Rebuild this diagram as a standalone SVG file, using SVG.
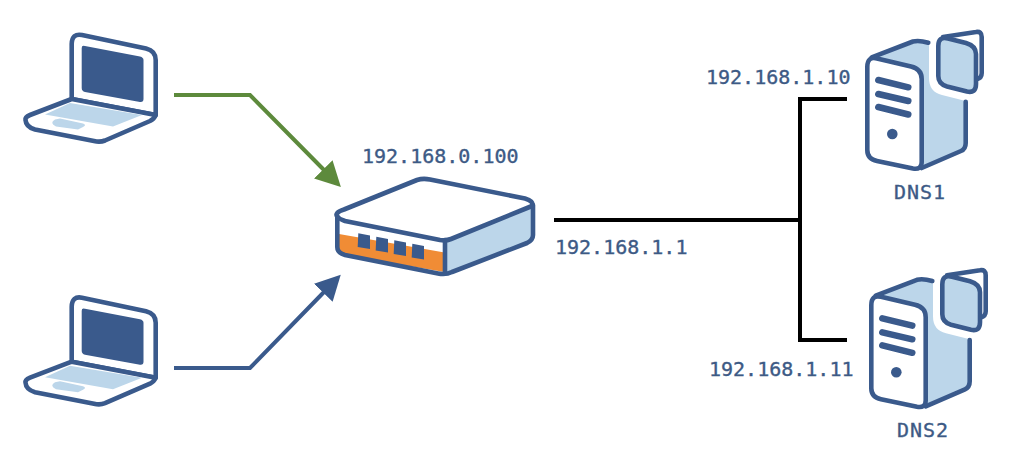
<svg xmlns="http://www.w3.org/2000/svg" width="1029" height="462" viewBox="0 0 1029 462">
<style>
.o{fill:none;stroke:#3a5a8c;stroke-width:4.600;stroke-linejoin:round;stroke-linecap:round}
.w{fill:#fff;stroke:#3a5a8c;stroke-width:4.600;stroke-linejoin:round;stroke-linecap:round}
.f{fill:#bcd6ea;stroke:#3a5a8c;stroke-width:4.600;stroke-linejoin:round;stroke-linecap:round}
.l{fill:#bcd6ea}
.d{fill:#3a5a8c}
.bar{fill:none;stroke:#3a5a8c;stroke-width:6.500;stroke-linecap:round}
.c{fill:none;stroke-width:4;stroke-linejoin:miter}
text{font-family:"DejaVu Sans Mono","Liberation Mono",monospace;font-size:20px;fill:#3d5a85;stroke:#3d5a85;stroke-width:.35}
.n{letter-spacing:1px}
</style>
<defs>
<marker id="ag" markerUnits="userSpaceOnUse" markerWidth="27" markerHeight="27" refX="1" refY="13" orient="auto"><path d="M0 0L25 13L0 26Z" fill="#5d8a3c"/></marker>
<marker id="ab" markerUnits="userSpaceOnUse" markerWidth="27" markerHeight="27" refX="1" refY="13" orient="auto"><path d="M0 0L25 13L0 26Z" fill="#3a5a8c"/></marker>
<g id="laptop">
<path class="w" d="M71.700 99V44Q72 33 82 35L146 48.500Q155.700 51 155.700 60V115Z"/>
<path class="d" d="M81.700 48Q81.700 45 85 46L140 56.500Q143.500 57.500 143.500 60V99Q143.500 102.500 140 102L85 92Q81.700 91 81.700 88Z"/>
<path class="w" d="M71.700 99L155.700 115Q154 119 150 121L105 140.500Q100 142.500 94 141L35 129.500Q26 127 25.500 120Q25 117 30 115Z"/>
<path class="l" d="M45 114.500L70 103L142 115L113 126.500Z"/>
<path class="l" d="M55 119.500L60 118.500L83 123.500Q87 125 83 127L78 129.500L56 126.500Q49 123 55 119.500Z"/>
</g>
<g id="server">
<path class="l" d="M872 58L918 42L929 43V78Q929 92 942 95L965.700 101V143Q965.700 149 961 151L921.700 168Z"/>
<path class="o" d="M871.700 57.300L913 41.500Q919 40 928.300 42.700M965.700 101.700V143Q965.700 149 961 151L921.700 168"/>
<path class="w" d="M867.300 67Q867.300 56 877 58.500L911 66.500Q921.700 69 921.700 79V162Q921.700 170 913 168.500L877 161Q867.300 159 867.300 150Z"/>
<path class="bar" d="M878.300 80L908.300 87.300M878.300 94L908.300 101M878.300 107L908.300 114.500"/>
<circle class="d" cx="892.300" cy="134" r="5.300"/>
<path class="w" d="M943 37L976 32Q981.700 31 981.700 37V73Q981.700 78 976.700 79.300"/>
<path class="f" d="M938.300 46Q938.300 36 948 38.500L966 43Q976 46 976 54V84Q976 93.500 967 91.500L947 86.500Q938.300 84 938.300 76Z"/>
</g>
</defs>
<g id="connectors">
<path class="c" stroke="#5d8a3c" marker-end="url(#ag)" d="M174 95H250L324 170"/>
<path class="c" stroke="#3a5a8c" marker-end="url(#ab)" d="M174 368H250L324 292"/>
<path class="c" stroke="#000" d="M554 220H800M847 99H800V340H847"/>
</g>
<g id="laptop1"><use href="#laptop"/></g>
<g id="laptop2"><use href="#laptop" y="262.700"/></g>
<g id="router">
<path class="l" d="M445 240L532 206V237Q532 241 528 243L445 274Z"/>
<path fill="#f08c35" d="M339 234V250L345 255L444.500 272V252.500Z"/>
<path class="o" d="M337.300 216V247Q337.300 253 345 255L438 273.500Q446 275 452 272L527 243Q533 240 533 235V205"/>
<path class="o" d="M445 240V273"/>
<path class="o" d="M344 209.500L417 180Q423 178 430 179.500L525 198.500Q534 201 532 206L451 239Q446 241 440 240L345 221Q334 217 337.300 213Q339 211 344 209.500Z"/>
<g class="d">
<path d="M358.300 233.300L370 235.500V249L357.700 247Z"/>
<path d="M376.300 236.800L388 239V252.500L375.700 250.500Z"/>
<path d="M394.300 240.300L406 242.500V256L393.700 254Z"/>
<path d="M412.300 243.800L424 246V259.500L411.700 257.500Z"/>
</g>
</g>
<g id="dns1"><use href="#server"/><text class="n" x="894" y="199">DNS1</text></g>
<g id="dns2"><use href="#server" x="4" y="238.300"/><text class="n" x="897" y="437">DNS2</text></g>
<g id="labels">
<text x="362" y="163">192.168.0.100</text>
<text x="555" y="254">192.168.1.1</text>
<text x="706" y="84">192.168.1.10</text>
<text x="709" y="376">192.168.1.11</text>
</g>
</svg>
